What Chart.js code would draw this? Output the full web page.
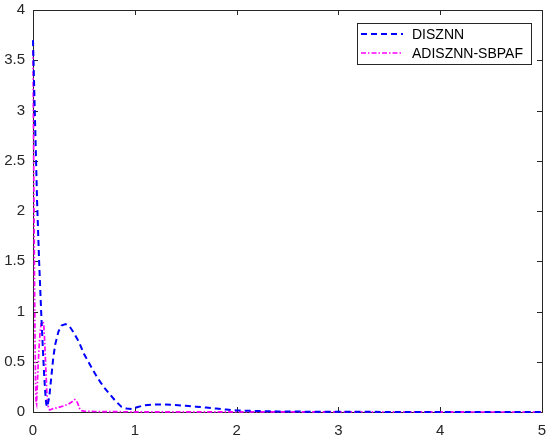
<!DOCTYPE html>
<html>
<head>
<meta charset="utf-8">
<script src="https://cdn.jsdelivr.net/npm/chart.js@4.4.0/dist/chart.umd.min.js"></script>
<style>
	body { margin: 0; background: #fff; }
	#wrap { width: 550px; height: 439px; position: relative; }
</style>
</head>
<body>
<div id="wrap"><canvas id="errChart"></canvas></div>
<script>
// values
const seriesNames = ['DISZNN', 'ADISZNN-SBPAF'];
const xTicks = [0, 1, 2, 3, 4, 5];
const yTicks = [0, 0.5, 1, 1.5, 2, 2.5, 3, 3.5, 4];

const disznnX = [0, 0.01, 0.02, 0.03, 0.04, 0.05, 0.06, 0.07, 0.08, 0.09, 0.10, 0.11, 0.12, 0.13, 0.14, 0.16, 0.18, 0.20, 0.22, 0.25, 0.28, 0.32, 0.36, 0.40, 0.45, 0.50, 0.56, 0.61, 0.66, 0.71, 0.76, 0.81, 0.87, 0.92, 0.97, 1.03, 1.10, 1.20, 1.30, 1.40, 1.50, 1.60, 1.70, 1.80, 1.90, 2.00, 2.20, 2.40, 2.60, 2.80, 3.00, 3.50, 4.00, 5.00];
const disznnY = [3.7, 3.3, 2.9, 2.5, 2.1, 1.8, 1.5, 1.25, 1.0, 0.78, 0.56, 0.36, 0.2, 0.08, 0.05, 0.15, 0.35, 0.55, 0.68, 0.8, 0.86, 0.875, 0.85, 0.79, 0.7, 0.58, 0.47, 0.38, 0.3, 0.23, 0.17, 0.11, 0.05, 0.035, 0.03, 0.05, 0.068, 0.075, 0.075, 0.07, 0.062, 0.053, 0.044, 0.034, 0.024, 0.015, 0.01, 0.006, 0.004, 0.003, 0.002, 0.001, 0.0005, 0];

const adisX = [0, 0.005, 0.01, 0.015, 0.02, 0.025, 0.03, 0.035, 0.04, 0.05, 0.06, 0.07, 0.08, 0.095, 0.105, 0.115, 0.125, 0.135, 0.145, 0.155, 0.165, 0.2, 0.25, 0.3, 0.35, 0.38, 0.41, 0.425, 0.44, 0.455, 0.47, 0.5, 0.6, 0.8, 1.0, 2.0, 5.0];
const adisY = [3.6, 2.8, 2.0, 1.3, 0.7, 0.3, 0.1, 0.08, 0.2, 0.45, 0.65, 0.8, 0.88, 0.9, 0.88, 0.7, 0.45, 0.22, 0.08, 0.03, 0.02, 0.035, 0.045, 0.06, 0.08, 0.1, 0.125, 0.115, 0.085, 0.04, 0.015, 0.008, 0.005, 0.003, 0.002, 0.001, 0];

function toPoints(xs, ys) {
	return xs.map(function(x, i) { return { x: x, y: ys[i] }; });
}

const axisColor = '#262626';

// MATLAB style box with inward ticks on all four sides (under the lines), legend on top
const boxPlugin = {
	id: 'boxPlugin',
	beforeDatasetsDraw: function(chart) {
		const ctx = chart.ctx;
		const a = chart.chartArea;
		const xs = chart.scales.x;
		const ys = chart.scales.y;
		const tl = 5;
		ctx.save();
		ctx.strokeStyle = axisColor;
		ctx.lineWidth = 1;
		ctx.strokeRect(Math.round(a.left) + 0.5, Math.round(a.top) + 0.5, Math.round(a.right - a.left), Math.round(a.bottom - a.top));
		ctx.beginPath();
		xTicks.forEach(function(v) {
			const px = Math.round(xs.getPixelForValue(v)) + 0.5;
			ctx.moveTo(px, a.bottom); ctx.lineTo(px, a.bottom - tl);
			ctx.moveTo(px, a.top); ctx.lineTo(px, a.top + tl);
		});
		yTicks.forEach(function(v) {
			const py = Math.round(ys.getPixelForValue(v)) + 0.5;
			ctx.moveTo(a.left, py); ctx.lineTo(a.left + tl, py);
			ctx.moveTo(a.right, py); ctx.lineTo(a.right - tl, py);
		});
		ctx.stroke();
		ctx.restore();
	},
	afterDraw: function(chart) {
		const ctx = chart.ctx;
		ctx.save();
		const lx = 357, ly = 23, lw = 174, lh = 41;
		ctx.fillStyle = '#fff';
		ctx.fillRect(lx, ly, lw, lh);
		ctx.strokeStyle = axisColor;
		ctx.lineWidth = 1;
		ctx.strokeRect(lx + 0.5, ly + 0.5, lw, lh);
		ctx.font = '14px "Liberation Sans", Arial, sans-serif';
		ctx.textBaseline = 'middle';
		chart.data.datasets.forEach(function(ds, i) {
			const yy = ly + 11 + i * 19;
			ctx.strokeStyle = ds.borderColor;
			ctx.lineWidth = ds.borderWidth;
			ctx.setLineDash(ds.borderDash);
			ctx.beginPath();
			ctx.moveTo(lx + 4, yy);
			ctx.lineTo(lx + 46, yy);
			ctx.stroke();
			ctx.setLineDash([]);
			ctx.fillStyle = '#000';
			ctx.fillText(ds.label, lx + 55, yy + 1);
		});
		ctx.restore();
	}
};

const tickFont = { family: '"Liberation Sans", Arial, sans-serif', size: 15 };

new Chart(document.getElementById('errChart'), {
	type: 'scatter',
	data: {
		datasets: [{
			label: seriesNames[0],
			data: toPoints(disznnX, disznnY),
			showLine: true,
			borderColor: '#0000ff',
			borderWidth: 2,
			borderDash: [6, 4],
			pointRadius: 0,
			tension: 0,
			clip: 3
		}, {
			label: seriesNames[1],
			data: toPoints(adisX, adisY),
			showLine: true,
			borderColor: '#ff00ff',
			borderWidth: 1.7,
			borderDash: [5, 2, 1.5, 2],
			pointRadius: 0,
			tension: 0,
			clip: 3
		}]
	},
	options: {
		responsive: true,
		maintainAspectRatio: false,
		animation: false,
		layout: { padding: { top: 10, right: 8, left: 0, bottom: 0 } },
		plugins: {
			legend: { display: false },
			tooltip: { enabled: false }
		},
		scales: {
			x: {
				type: 'linear',
				min: 0,
				max: 5,
				afterFit: function(s) { s.height = 27; s.paddingLeft = 0; s.paddingRight = 0; },
				afterBuildTicks: function(s) { s.ticks = xTicks.map(function(v) { return { value: v }; }); },
				grid: { display: false, drawTicks: false },
				border: { display: false },
				ticks: { color: axisColor, font: tickFont, padding: 10, maxRotation: 0, callback: function(v) { return String(v); } }
			},
			y: {
				type: 'linear',
				min: 0,
				max: 4,
				afterFit: function(s) { s.width = 33; s.paddingTop = 0; s.paddingBottom = 0; },
				afterBuildTicks: function(s) { s.ticks = yTicks.map(function(v) { return { value: v }; }); },
				grid: { display: false, drawTicks: false },
				border: { display: false },
				ticks: { color: axisColor, font: tickFont, padding: 8, callback: function(v) { return String(v); } }
			}
		}
	},
	plugins: [boxPlugin]
});
</script>
</body>
</html>
